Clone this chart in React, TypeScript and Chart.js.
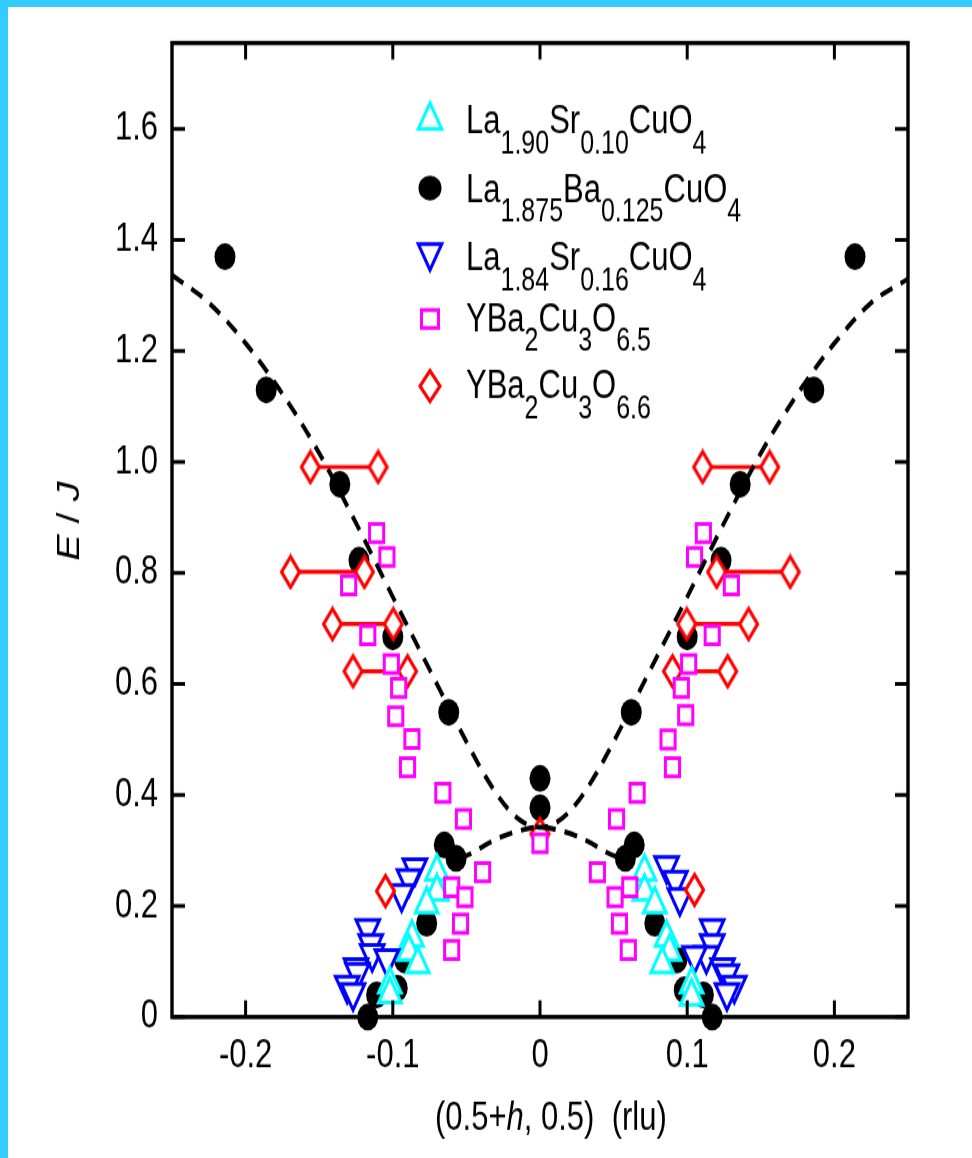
import React, { useEffect, useRef } from "react";
import { Chart, registerables } from "chart.js";

Chart.register(...registerables);

// ---------------- data: E/J versus (0.5+h, 0.5) (rlu) ----------------

// La1.90Sr0.10CuO4 (open up-triangles)
const lsco10H = [-0.070, -0.070, -0.077, -0.087, -0.089, -0.083, -0.102, -0.102, 0.071, 0.071, 0.078, 0.086, 0.088, 0.083, 0.103, 0.103];
const lsco10E = [0.262, 0.226, 0.203, 0.143, 0.118, 0.095, 0.059, 0.041, 0.262, 0.226, 0.203, 0.143, 0.118, 0.095, 0.059, 0.037];

// La1.875Ba0.125CuO4 (filled circles)
const lbcoH = [-0.214, -0.186, -0.136, -0.123, -0.100, -0.062, -0.065, -0.057, -0.077, -0.092, -0.097, -0.111, -0.117, 0, 0, 0.214, 0.186, 0.136, 0.123, 0.100, 0.062, 0.064, 0.058, 0.078, 0.093, 0.098, 0.111, 0.117];
const lbcoE = [1.37, 1.13, 0.96, 0.823, 0.685, 0.549, 0.31, 0.286, 0.169, 0.103, 0.052, 0.04, 0.0, 0.43, 0.377, 1.37, 1.13, 0.96, 0.823, 0.685, 0.549, 0.31, 0.286, 0.169, 0.103, 0.049, 0.04, 0.0];

// La1.84Sr0.16CuO4 (open down-triangles)
const lsco16H = [-0.085, -0.089, -0.094, -0.117, -0.115, -0.114, -0.104, -0.125, -0.124, -0.131, -0.127, 0.086, 0.092, 0.095, 0.117, 0.117, 0.113, 0.105, 0.124, 0.127, 0.132, 0.127];
const lsco16E = [0.269, 0.249, 0.222, 0.159, 0.132, 0.114, 0.105, 0.089, 0.080, 0.057, 0.044, 0.273, 0.246, 0.215, 0.159, 0.132, 0.111, 0.111, 0.089, 0.078, 0.057, 0.044];

// YBa2Cu3O6.5 (open squares)
const ybco65H = [-0.111, -0.104, -0.130, -0.117, -0.101, -0.096, -0.098, -0.087, -0.090, -0.066, -0.052, -0.039, -0.060, -0.051, -0.054, -0.060, 0, 0.111, 0.105, 0.130, 0.117, 0.101, 0.096, 0.099, 0.087, 0.090, 0.066, 0.052, 0.039, 0.061, 0.051, 0.054, 0.060];
const ybco65E = [0.872, 0.829, 0.778, 0.688, 0.636, 0.593, 0.542, 0.501, 0.450, 0.404, 0.357, 0.261, 0.234, 0.216, 0.168, 0.121, 0.313, 0.872, 0.829, 0.778, 0.688, 0.636, 0.593, 0.544, 0.500, 0.450, 0.404, 0.357, 0.261, 0.234, 0.216, 0.168, 0.121];

// YBa2Cu3O6.6 (open diamonds): pairs joined by a line, plus single points
const ybco66PairE = [0.991, 0.802, 0.708, 0.623, 0.991, 0.802, 0.708, 0.623];
const ybco66PairH1 = [-0.156, -0.1695, -0.141, -0.127, 0.1105, 0.120, 0.0997, 0.090];
const ybco66PairH2 = [-0.110, -0.1193, -0.0997, -0.090, 0.156, 0.170, 0.1417, 0.1275];
const ybco66SingleH = [-0.105, 0.105, 0];
const ybco66SingleE = [0.227, 0.229, 0.33];

// dashed model dispersion: upper branch (minimum at h = 0)
const upperH = [-0.25, -0.225, -0.2, -0.175, -0.15, -0.125, -0.1, -0.075, -0.05, -0.04, -0.03, -0.02, -0.01, 0, 0.01, 0.02, 0.03, 0.04, 0.05, 0.075, 0.1, 0.125, 0.15, 0.175, 0.2, 0.225, 0.25];
const upperE = [1.337, 1.287, 1.214, 1.123, 1.016, 0.890, 0.757, 0.626, 0.496, 0.447, 0.404, 0.370, 0.349, 0.342, 0.349, 0.370, 0.404, 0.447, 0.496, 0.626, 0.757, 0.890, 1.016, 1.123, 1.214, 1.287, 1.330];
// dashed model dispersion: lower branch (maximum at h = 0)
const lowerH = [-0.055, -0.045, -0.035, -0.025, -0.015, 0, 0.015, 0.025, 0.035, 0.045, 0.055];
const lowerE = [0.285, 0.297, 0.313, 0.326, 0.335, 0.342, 0.335, 0.326, 0.313, 0.297, 0.285];

// axes
const xTickValues = [-0.2, -0.1, 0, 0.1, 0.2];
const xTickLabels = ["-0.2", "-0.1", "0", "0.1", "0.2"];
const yTickValues = [0, 0.2, 0.4, 0.6, 0.8, 1.0, 1.2, 1.4, 1.6];
const yTickLabels = ["0", "0.2", "0.4", "0.6", "0.8", "1.0", "1.2", "1.4", "1.6"];

const legendNames = [
  "La_{1.90}Sr_{0.10}CuO_{4}",
  "La_{1.875}Ba_{0.125}CuO_{4}",
  "La_{1.84}Sr_{0.16}CuO_{4}",
  "YBa_{2}Cu_{3}O_{6.5}",
  "YBa_{2}Cu_{3}O_{6.6}",
];
const legendMarkers = ["triUp", "circle", "triDown", "square", "diamond"];

// ---------------- layout ----------------
const W = 972;
const PAGE_H = 1158;
const CANVAS_H = 905;
const SY = PAGE_H / CANVAS_H; // the canvas is stretched vertically by this factor
const py = (y: number) => y / SY;

const FONT = '"Liberation Sans", Arial, Helvetica, sans-serif';
const CYAN = "#00FFFF";
const BLUE = "#0000FF";
const MAGENTA = "#FF00FF";
const RED = "#FF0000";

const FRAME = { left: 172, right: 908, top: 43, bottom: 1017 };
const TICK_LEN = 13;
const LEGEND_MARK_X = 430;
const LEGEND_TEXT_X = 466;
const LEGEND_BASE = [133, 202, 270, 331, 398];
const LEGEND_MARK_Y = [116, 188, 257, 319, 386];
const MAIN_SIZE = 31;
const SUB_SIZE = 25;
const SUB_SHIFT = 15.6;

const pts = (h: number[], e: number[]) => h.map((v, i) => ({ x: v, y: e[i] }));

function diamondImage(hw: number, hh: number, lw: number, color: string) {
  const c = document.createElement("canvas");
  c.width = Math.ceil(2 * hw + lw + 2);
  c.height = Math.ceil(2 * hh + lw + 2);
  const g = c.getContext("2d")!;
  const cx = c.width / 2;
  const cy = c.height / 2;
  g.beginPath();
  g.moveTo(cx, cy - hh);
  g.lineTo(cx + hw, cy);
  g.lineTo(cx, cy + hh);
  g.lineTo(cx - hw, cy);
  g.closePath();
  g.fillStyle = "#fff";
  g.fill();
  g.lineWidth = lw;
  g.strokeStyle = color;
  g.stroke();
  return c;
}

function runsOf(label: string) {
  const out: { t: string; sub: boolean }[] = [];
  const re = /_\{([^}]*)\}/g;
  let last = 0;
  let m: RegExpExecArray | null;
  while ((m = re.exec(label))) {
    if (m.index > last) out.push({ t: label.slice(last, m.index), sub: false });
    out.push({ t: m[1], sub: true });
    last = re.lastIndex;
  }
  if (last < label.length) out.push({ t: label.slice(last), sub: false });
  return out;
}

function drawMarker(ctx: CanvasRenderingContext2D, kind: string, x: number, y: number) {
  ctx.save();
  ctx.lineWidth = 3;
  ctx.fillStyle = "#fff";
  ctx.beginPath();
  if (kind === "triUp" || kind === "triDown") {
    const r = 13.5;
    const s = kind === "triUp" ? 1 : -1;
    const cy = y + (s * r) / 4;
    ctx.moveTo(x, cy - s * r);
    ctx.lineTo(x + 0.866 * r, cy + (s * r) / 2);
    ctx.lineTo(x - 0.866 * r, cy + (s * r) / 2);
    ctx.closePath();
    ctx.fill();
    ctx.strokeStyle = kind === "triUp" ? CYAN : BLUE;
    ctx.stroke();
  } else if (kind === "circle") {
    ctx.ellipse(x, y, 11.5, 9.8, 0, 0, Math.PI * 2);
    ctx.fillStyle = "#000";
    ctx.fill();
  } else if (kind === "square") {
    ctx.rect(x - 8.5, y - 7, 17, 14);
    ctx.fill();
    ctx.strokeStyle = MAGENTA;
    ctx.stroke();
  } else {
    ctx.moveTo(x, y - 12);
    ctx.lineTo(x + 10, y);
    ctx.lineTo(x, y + 12);
    ctx.lineTo(x - 10, y);
    ctx.closePath();
    ctx.fill();
    ctx.strokeStyle = RED;
    ctx.stroke();
  }
  ctx.restore();
}

const decorPlugin = {
  id: "frameTitlesLegend",
  afterDatasetsDraw(chart: any) {
    const ctx: CanvasRenderingContext2D = chart.ctx;
    const a = chart.chartArea;
    const xs = chart.scales.x;
    const ys = chart.scales.y;
    ctx.save();
    ctx.strokeStyle = "#000";
    ctx.lineCap = "butt";

    // inward ticks on all four sides
    ctx.lineWidth = 3;
    ctx.beginPath();
    for (const v of xTickValues) {
      const p = xs.getPixelForValue(v);
      ctx.moveTo(p, a.bottom);
      ctx.lineTo(p, a.bottom - TICK_LEN);
      ctx.moveTo(p, a.top);
      ctx.lineTo(p, a.top + TICK_LEN);
    }
    for (const v of yTickValues) {
      const p = ys.getPixelForValue(v);
      ctx.moveTo(a.left, p);
      ctx.lineTo(a.left + TICK_LEN, p);
      ctx.moveTo(a.right, p);
      ctx.lineTo(a.right - TICK_LEN, p);
    }
    ctx.stroke();

    // frame
    ctx.lineWidth = 3.4;
    ctx.strokeRect(a.left, a.top, a.right - a.left, a.bottom - a.top);

    ctx.fillStyle = "#000";
    ctx.textBaseline = "alphabetic";
    ctx.textAlign = "left";

    // x-axis title: (0.5+h, 0.5)  (rlu)
    const xRuns = [
      { t: "(0.5+", it: false },
      { t: "h", it: true },
      { t: ", 0.5)  (rlu)", it: false },
    ];
    let x = 435;
    for (const r of xRuns) {
      ctx.font = `${r.it ? "italic " : ""}${MAIN_SIZE}px ${FONT}`;
      ctx.fillText(r.t, x, py(1130));
      x += ctx.measureText(r.t).width;
    }

    // y-axis title: E / J
    const yRuns = [
      { t: "E", it: true },
      { t: " / ", it: false },
      { t: "J", it: true },
    ];
    let total = 0;
    for (const r of yRuns) {
      ctx.font = `${r.it ? "italic " : ""}${MAIN_SIZE}px ${FONT}`;
      total += ctx.measureText(r.t).width;
    }
    ctx.save();
    ctx.translate(79, py(521));
    ctx.rotate(-Math.PI / 2);
    let tx = -total / 2;
    for (const r of yRuns) {
      ctx.font = `${r.it ? "italic " : ""}${MAIN_SIZE}px ${FONT}`;
      ctx.fillText(r.t, tx, 0);
      tx += ctx.measureText(r.t).width;
    }
    ctx.restore();

    // legend
    legendNames.forEach((name, i) => {
      drawMarker(ctx, legendMarkers[i], LEGEND_MARK_X, py(LEGEND_MARK_Y[i]));
      let lx = LEGEND_TEXT_X;
      const base = py(LEGEND_BASE[i]);
      for (const r of runsOf(name)) {
        ctx.font = `${r.sub ? SUB_SIZE : MAIN_SIZE}px ${FONT}`;
        ctx.fillText(r.t, lx, base + (r.sub ? SUB_SHIFT : 0));
        lx += ctx.measureText(r.t).width;
      }
    });

    ctx.restore();
  },
};

export default function App() {
  const ref = useRef<HTMLCanvasElement>(null);

  useEffect(() => {
    const canvas = ref.current;
    if (!canvas) return;

    const redPairs: { x: number; y: number | null }[] = [];
    ybco66PairE.forEach((e, i) => {
      redPairs.push({ x: ybco66PairH1[i], y: e });
      redPairs.push({ x: ybco66PairH2[i], y: e });
      redPairs.push({ x: ybco66PairH2[i], y: null });
    });
    const diamond = diamondImage(9, 12, 3, RED);

    const hollow = (color: string) => ({
      showLine: false,
      pointBorderColor: color,
      pointBackgroundColor: "#fff",
      pointBorderWidth: 3,
      clip: false as const,
    });

    const dashed = {
      borderColor: "#000",
      borderWidth: 3.9,
      borderDash: [13, 9],
      pointRadius: 0,
      cubicInterpolationMode: "monotone",
      fill: false,
    };

    const chart = new Chart(canvas, {
      type: "line",
      data: {
        datasets: [
          { label: "model upper", data: pts(upperH, upperE), ...dashed },
          { label: "model lower", data: pts(lowerH, lowerE), ...dashed },
          {
            label: "YBa2Cu3O6.5",
            data: pts(ybco65H, ybco65E),
            pointStyle: "rect",
            pointRadius: 10,
            ...hollow(MAGENTA),
          },
          {
            label: "YBa2Cu3O6.6",
            data: pts(ybco66SingleH, ybco66SingleE),
            showLine: false,
            pointStyle: diamond,
            pointRadius: 12,
            clip: false,
          },
          {
            label: "YBa2Cu3O6.6 pairs",
            data: redPairs,
            borderColor: RED,
            borderWidth: 3.2,
            spanGaps: false,
            pointStyle: diamond,
            pointRadius: 12,
            clip: false,
          },
          {
            label: "La1.90Sr0.10CuO4",
            data: pts(lsco10H, lsco10E),
            pointStyle: "triangle",
            pointRadius: 13,
            ...hollow(CYAN),
          },
          {
            label: "La1.84Sr0.16CuO4",
            data: pts(lsco16H, lsco16E),
            pointStyle: "triangle",
            pointRotation: 180,
            pointRadius: 13.5,
            ...hollow(BLUE),
          },
          {
            label: "La1.875Ba0.125CuO4",
            data: pts(lbcoH, lbcoE),
            showLine: false,
            pointStyle: "circle",
            pointRadius: 10.5,
            pointBorderWidth: 0,
            pointBackgroundColor: "#000",
            pointBorderColor: "#000",
            clip: false,
          },
        ] as any,
      },
      options: {
        animation: false,
        responsive: false,
        devicePixelRatio: 1,
        events: [],
        layout: {
          padding: { top: py(FRAME.top), right: W - FRAME.right, left: 0, bottom: 0 },
        },
        plugins: {
          legend: { display: false },
          tooltip: { enabled: false },
          title: { display: false },
        },
        scales: {
          x: {
            type: "linear",
            min: -0.25,
            max: 0.25,
            grid: { display: false, drawTicks: false },
            border: { display: false },
            afterBuildTicks: (s: any) => {
              s.ticks = xTickValues.map((v) => ({ value: v }));
            },
            afterFit: (s: any) => {
              s.height = CANVAS_H - py(FRAME.bottom);
            },
            ticks: {
              color: "#000",
              font: { family: FONT, size: MAIN_SIZE },
              padding: 12,
              maxRotation: 0,
              autoSkip: false,
              callback: (_v: any, i: number) => xTickLabels[i],
            },
          },
          y: {
            type: "linear",
            min: 0,
            max: 1.755,
            grid: { display: false, drawTicks: false },
            border: { display: false },
            afterBuildTicks: (s: any) => {
              s.ticks = yTickValues.map((v) => ({ value: v }));
            },
            afterFit: (s: any) => {
              s.width = FRAME.left;
            },
            ticks: {
              color: "#000",
              font: { family: FONT, size: MAIN_SIZE },
              padding: 14,
              autoSkip: false,
              callback: (_v: any, i: number) => yTickLabels[i],
            },
          },
        },
      } as any,
      plugins: [decorPlugin],
    });

    return () => chart.destroy();
  }, []);

  return (
    <div
      style={{
        position: "fixed",
        left: 0,
        top: 0,
        width: W,
        height: PAGE_H,
        background: "#33CCFF",
        overflow: "hidden",
      }}
    >
      <div style={{ position: "absolute", left: 8, top: 7, right: 0, bottom: 0, background: "#fff" }} />
      <div
        style={{
          position: "absolute",
          left: 0,
          top: 0,
          width: W,
          height: CANVAS_H,
          transform: `scaleY(${SY})`,
          transformOrigin: "0 0",
        }}
      >
        <canvas ref={ref} width={W} height={CANVAS_H} style={{ display: "block", width: W, height: CANVAS_H }} />
      </div>
    </div>
  );
}
